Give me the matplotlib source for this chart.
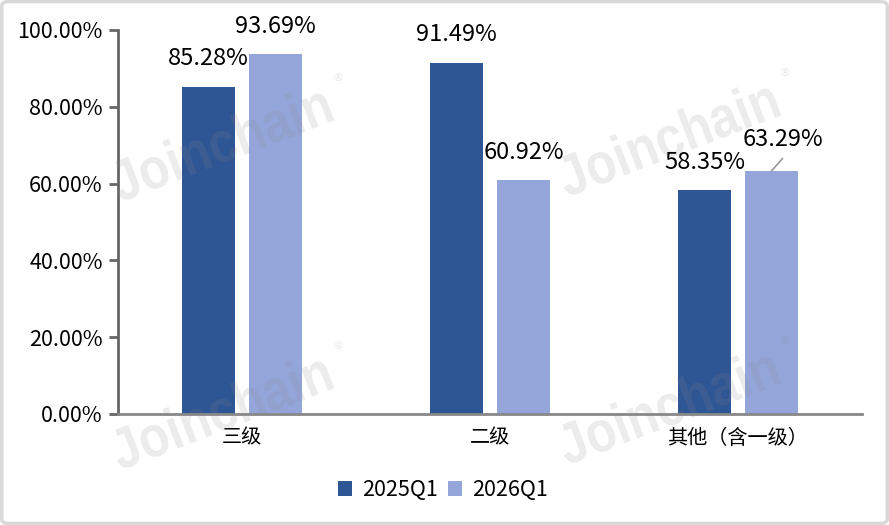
import matplotlib
matplotlib.use("Agg")
import matplotlib.pyplot as plt
from matplotlib.patches import FancyBboxPatch, PathPatch
from matplotlib.textpath import TextPath
from matplotlib.font_manager import FontProperties
from matplotlib.transforms import Affine2D, IdentityTransform

plt.rcParams['font.family'] = ['Noto Sans CJK SC', 'DejaVu Sans']

categories = ['三级', '二级', '其他（含一级）']
series_names = ['2025Q1', '2026Q1']
v2025 = [85.28, 91.49, 58.35]
v2026 = [93.69, 60.92, 63.29]
yticks = [0, 20, 40, 60, 80, 100]

c_dark = '#2E5594'
c_light = '#93A5D9'

W, H = 889, 525
fig = plt.figure(figsize=(W/100, H/100), dpi=100)
ax = fig.add_axes([118/W, 1-414/H, (862-118)/W, (414-30)/H])

x = list(range(len(categories)))
off = 0.135
w = 0.214
b1 = ax.bar([i - off for i in x], v2025, w, color=c_dark, label=series_names[0], zorder=2)
b2 = ax.bar([i + off for i in x], v2026, w, color=c_light, label=series_names[1], zorder=2)

lab_fs = 17
for i, v in enumerate(v2025):
    ax.annotate(f'{v:.2f}%', (i - off, v), xytext=(0, 20), textcoords='offset points',
                ha='center', va='center', fontsize=lab_fs, color='black', zorder=5)
for i, v in enumerate(v2026):
    if i == 2:
        ax.annotate(f'{v:.2f}%', (i + off, v), xytext=(8, 22.5), textcoords='offset points',
                    ha='center', va='center', fontsize=lab_fs, color='black', zorder=5)
        ax.annotate('', xy=(i + off, v), xytext=(8, 9), textcoords='offset points',
                    arrowprops=dict(arrowstyle='-', color='#999999', lw=1.2,
                                    shrinkA=0, shrinkB=0), zorder=5)
    else:
        ax.annotate(f'{v:.2f}%', (i + off, v), xytext=(0, 20), textcoords='offset points',
                    ha='center', va='center', fontsize=lab_fs, color='black', zorder=5)

ax.set_xlim(-0.5, 2.5)
ax.set_ylim(0, 100)
ax.set_yticks(yticks)
ax.set_yticklabels([f'{t:.2f}%' for t in yticks], fontsize=15.5)
ax.set_xticks(x)
ax.set_xticklabels(categories, fontsize=14.5)
ax.tick_params(axis='x', length=0, pad=10)
ax.tick_params(axis='y', length=6.5, width=2, color='#666666', pad=4.5)
for s in ['top', 'right']:
    ax.spines[s].set_visible(False)
ax.spines['left'].set_color('#666666')
ax.spines['left'].set_linewidth(2)
ax.spines['bottom'].set_color('#888888')
ax.spines['bottom'].set_linewidth(2)
ax.patch.set_alpha(0)

# watermark (semi-transparent, drawn over bars, below value labels)
wm_prop = FontProperties(family='Liberation Sans', weight='bold')
wm_path = TextPath((0, 0), 'Joinchain', size=58, prop=wm_prop)
ext = wm_path.get_extents()
cx, cy = (ext.x0 + ext.x1) / 2, (ext.y0 + ext.y1) / 2
for (wx, wy) in [(220, 142), (220, 410), (667, 137), (667, 405)]:
    tr = (Affine2D().translate(-cx, -cy).scale(0.86, 1.0).rotate_deg(21)
          .translate(wx, H - wy))
    p = PathPatch(tr.transform_path(wm_path), facecolor='#8c8c8c', edgecolor='none',
                  alpha=0.16, transform=IdentityTransform(), zorder=3)
    p.set_clip_on(False)
    ax.add_artist(p)
    ax.text((wx+118)/W, 1-(wy-64)/H, '®', fontsize=8, color='#8c8c8c',
            alpha=0.2, ha='center', va='center', family=['DejaVu Sans'],
            transform=fig.transFigure, clip_on=False, zorder=3)

leg = fig.legend(handles=[b1, b2], labels=series_names, loc='center',
                 bbox_to_anchor=(443/W, 1-490/H), ncol=2, frameon=False,
                 fontsize=15.5, handlelength=0.65, handleheight=0.65,
                 handletextpad=0.45, columnspacing=0.5)

# border
fig.patches.append(FancyBboxPatch((0.002, 0.003), 0.996, 0.994,
                                  boxstyle='round,pad=0,rounding_size=0.008',
                                  transform=fig.transFigure, fill=False,
                                  edgecolor='#d9d9d9', lw=2.5))

fig.savefig('out.png', dpi=100)
